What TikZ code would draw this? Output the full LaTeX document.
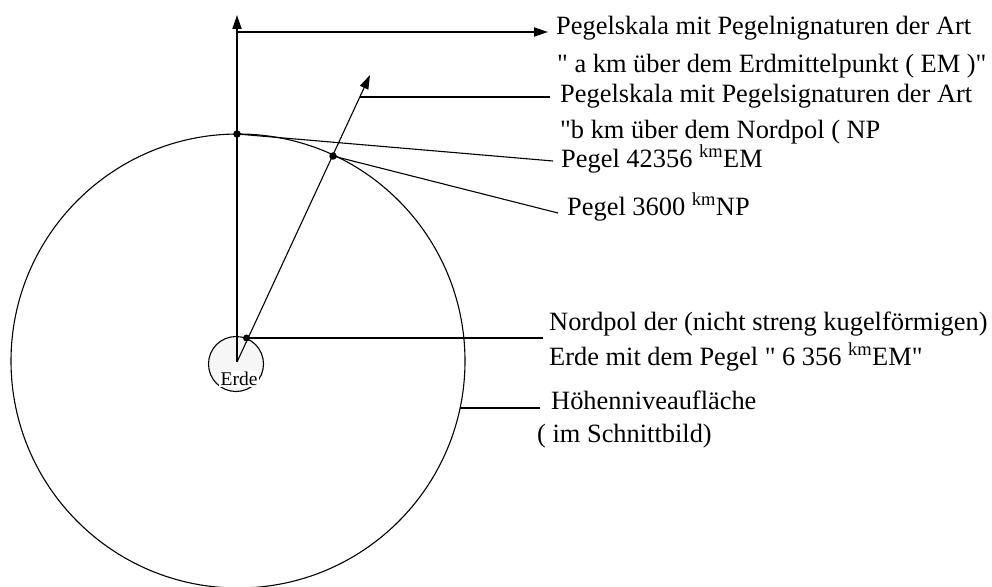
\documentclass[tikz,border=0pt]{standalone}
\usepackage{fontspec}
\setmainfont{Liberation Serif}
\newfontfamily\qfont{Liberation Serif}
\usetikzlibrary{arrows.meta,positioning}
\newcommand{\gq}{{\qfont\symbol{34}}}
\tikzset{
  lbl/.style={anchor=base west, inner sep=0pt, font=\fontsize{26.4}{30}\selectfont},
  dicklinie/.style={line width=2pt},
  duennlinie/.style={line width=1.1pt},
  pfeil/.style={-{Triangle[length=14pt,width=9pt]}},
  punkt/.style={circle, fill=black, inner sep=0pt, minimum size=7.5pt},
}

\begin{document}
\begin{tikzpicture}[x=1pt,y=-1pt]
    \useasboundingbox (0,0) rectangle (992,586);
    % Hoehenniveauflaeche (Schnittbild) und Erde
    \draw[duennlinie] (238,361) circle[radius=227pt];
    \draw[duennlinie, fill=gray!7] (236,364) circle[radius=27.5pt];
    \node[fill=white, inner sep=1.5pt, font=\fontsize{19.5}{21}\selectfont] (erde) at (239,379) {Erde};
    \coordinate (EM) at (237,362);
    % Pegelskala EM: senkrechte Achse
    \coordinate (achseOben) at (237,15);
    \coordinate (knickEM) at (237,32);
    \coordinate (endeEM) at (548,32);
    \draw[dicklinie, pfeil] (EM) -- (achseOben);
    \draw[dicklinie, pfeil] (knickEM) -- (endeEM);
    % Pegelskala NP: schraege Achse
    \coordinate (achseNP) at (370,75);
    \coordinate (knickNP) at (360,97);
    \coordinate (endeNP) at (550,97);
    \draw[duennlinie, pfeil] (EM) -- (achseNP);
    \draw[dicklinie] (knickNP) -- (endeNP);
    % Pegelpunkte
    \node[punkt] (pTop) at (237,134) {};
    \node[punkt] (pNP) at (333,156) {};
    \node[punkt, minimum size=7pt] (pNord) at (246.5,338) {};
    % Beschriftungen
    \node[lbl] (t1) at (556,35) {Pegelskala mit Pegelnignaturen der Art};
    \node[lbl] (t2) at (557,72) {\gq{} a km über dem Erdmittelpunkt ( EM )\gq};
    \node[lbl] (t3) at (560,102) {Pegelskala mit Pegelsignaturen der Art};
    \node[lbl] (t4) at (560,138) {\gq b km über dem Nordpol ( NP};
    \node[lbl] (t5) at (561,167) {Pegel 42356 \textsuperscript{km}EM};
    \node[lbl] (t6) at (567,215) {Pegel 3600 \textsuperscript{km}NP};
    \node[lbl] (t7) at (549,330) {Nordpol der (nicht streng kugelförmigen)};
    \node[lbl] (t8) at (549,365) {Erde mit dem Pegel \gq{} 6 356 \textsuperscript{km}EM\gq};
    \node[lbl] (t9) at (551,409) {Höhenniveaufläche};
    \node[lbl] (t10) at (537,442) {( im Schnittbild)};
    % Hinweislinien
    \coordinate (zuT5) at (553,161);
    \coordinate (zuT6) at (558,213);
    \coordinate (zuT7) at (543,338);
    \coordinate (randH) at (460,408);
    \coordinate (zuT9) at (540,408);
    \draw[duennlinie] (pTop.center) -- (zuT5);
    \draw[duennlinie] (pNP.center) -- (zuT6);
    \draw[dicklinie] (pNord.center) -- (zuT7);
    \draw[dicklinie] (randH) -- (zuT9);
\end{tikzpicture}
\end{document}
